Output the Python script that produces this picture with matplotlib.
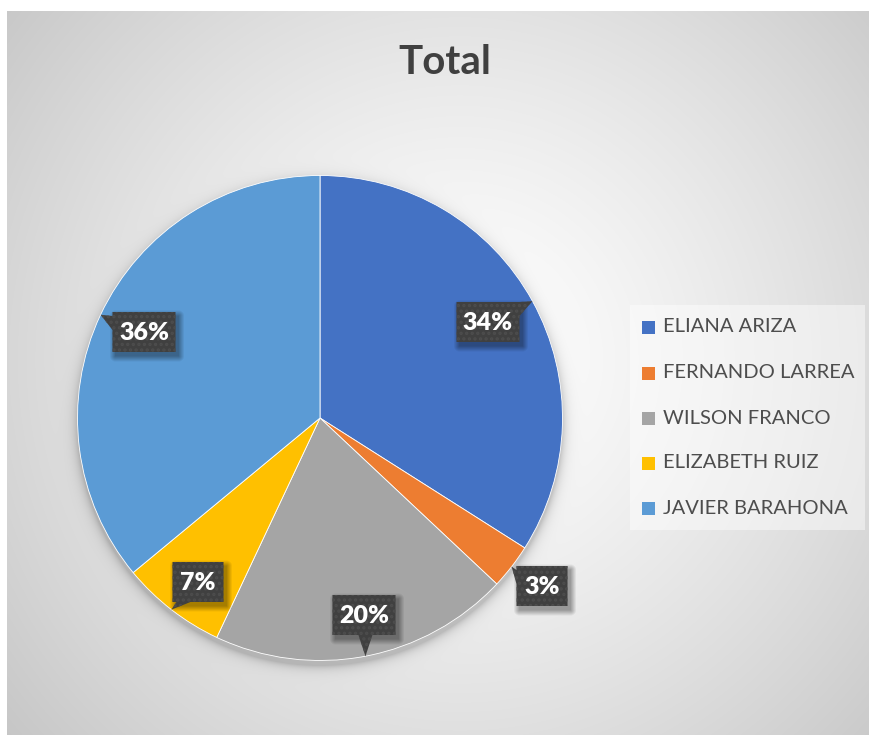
import numpy as np
import matplotlib
matplotlib.use("Agg")
import matplotlib.pyplot as plt
from matplotlib.patches import Polygon, Rectangle

# --- data ---------------------------------------------------------------
names = ["ELIANA ARIZA", "FERNANDO LARREA", "WILSON FRANCO",
         "ELIZABETH RUIZ", "JAVIER BARAHONA"]
shares = [34, 3, 20, 7, 36]
colors = ["#4472C4", "#ED7D31", "#A5A5A5", "#FFC000", "#5B9BD5"]
title = "Total"

# label box centres (pixel layout, y measured from the top)
label_pos = [(488, 322), (542, 586), (364, 615), (198, 582), (144, 332)]

W, H = 870, 735
FONT = ["Lato", "DejaVu Sans"]
plt.rcParams["font.family"] = FONT

fig = plt.figure(figsize=(W / 100, H / 100), dpi=100)
ax = fig.add_axes([0, 0, 1, 1])

# --- background: radial grey gradient inside the chart area --------------
yy, xx = np.mgrid[0:H, 0:W] + 0.5
d = np.hypot(xx - 460, yy - 360)
val = 255 - 58 * np.clip(d / 600, 0, 1) ** 1.3

# soft shadow under the pie
pcx, pcy, R = 320, 418, 242.5
ds = np.hypot(xx - pcx, yy - (pcy + 5)) - R
shadow = 0.2 * np.exp(-np.clip(ds, 0, None) / 5.0)
val = val * (1 - shadow)

bg = np.repeat(val[:, :, None], 3, axis=2) / 255.0
bg[:11, :, :] = 1.0
bg[:, :7, :] = 1.0
ax.imshow(bg, extent=(0, W, 0, H), origin="upper", zorder=0, interpolation="bilinear")

# --- pie ------------------------------------------------------------------
wedges, _ = ax.pie(shares, colors=colors, startangle=90, counterclock=False,
                   center=(pcx, H - pcy), radius=R,
                   wedgeprops=dict(edgecolor="white", linewidth=0.6, zorder=2))
ax.set_xlim(0, W)
ax.set_ylim(0, H)
ax.set_aspect("equal")
ax.axis("off")

ax.text(445, H - 62, title, ha="center", va="center", fontsize=29,
        fontweight="bold", color="#404040")

# --- callout labels ---------------------------------------------------------
total = sum(shares)


def callout_poly(cx, cy, w, h, tx, ty, bw=14, inset=4):
    x0, x1 = cx - w / 2, cx + w / 2
    y0, y1 = cy - h / 2, cy + h / 2
    ex = max(x0 - tx, tx - x1, 0)
    ey = max(y0 - ty, ty - y1, 0)
    if ex >= ey:
        if tx > x1:
            c = float(np.clip(ty, y0 + bw / 2, y1 - bw / 2))
            return [(x0, y0), (x1, y0), (x1, c - bw / 2), (tx, ty),
                    (x1, c + bw / 2), (x1, y1), (x0, y1)]
        c = float(np.clip(ty, y0 + bw / 2 + inset, y1 - bw / 2 - inset))
        return [(x0, y0), (x1, y0), (x1, y1), (x0, y1),
                (x0, c + bw / 2), (tx, ty), (x0, c - bw / 2)]
    c = float(np.clip(tx, x0 + bw / 2 + inset, x1 - bw / 2 - inset))
    if ty > y1:
        return [(x0, y0), (x1, y0), (x1, y1), (c + bw / 2, y1), (tx, ty),
                (c - bw / 2, y1), (x0, y1)]
    return [(x0, y0), (c - bw / 2, y0), (tx, ty), (c + bw / 2, y0),
            (x1, y0), (x1, y1), (x0, y1)]


shadow_layer = np.zeros((H, W, 4))
polys = []
for wdg, v, (bx, by) in zip(wedges, shares, label_pos):
    mid = np.deg2rad((wdg.theta1 + wdg.theta2) / 2)
    tx = pcx + R * np.cos(mid)
    ty = (H - pcy) + R * np.sin(mid)
    txt = f"{v / total * 100:.0f}%"
    w = 27 + 12 * len(txt)
    h = 40
    cy = H - by
    pts = callout_poly(bx, cy, w, h, tx, ty)
    polys.append((pts, txt, bx, cy))
    # soft drop shadow of the box (image coords)
    x0, x1 = bx - w / 2 + 3, bx + w / 2 + 3
    y0, y1 = by - h / 2 + 4, by + h / 2 + 4
    dx = np.maximum(np.maximum(x0 - xx, xx - x1), 0)
    dy = np.maximum(np.maximum(y0 - yy, yy - y1), 0)
    dd = np.hypot(dx, dy)
    a = 0.35 * np.clip(1 - dd / 6.0, 0, 1)
    shadow_layer[:, :, 3] = np.maximum(shadow_layer[:, :, 3], a)

ax.imshow(shadow_layer, extent=(0, W, 0, H), origin="upper", zorder=3,
          interpolation="bilinear")

plt.rcParams["hatch.linewidth"] = 1.6
for pts, txt, bx, cy in polys:
    ax.add_patch(Polygon(pts, closed=True, facecolor="#404040", edgecolor="#4d4d4d",
                         linewidth=0, hatch="...", zorder=4))
    ax.text(bx, cy - 1, txt, ha="center", va="center", fontsize=18,
            fontweight="heavy", color="white", zorder=5)

# --- legend -------------------------------------------------------------------
ax.add_patch(Rectangle((630, H - 530), 235, 225, facecolor="white", alpha=0.45,
                       edgecolor="none", zorder=2))
rows = [327, 373, 418, 463, 508]
for name, col, ry in zip(names, colors, rows):
    ax.add_patch(Rectangle((642, H - ry - 6.5), 13, 13, facecolor=col,
                           edgecolor="none", zorder=3))
    ax.text(663, H - ry, name, ha="left", va="center", fontsize=14.5,
            color="#4d4d4d", zorder=3)

fig.savefig("out.png", dpi=100)
